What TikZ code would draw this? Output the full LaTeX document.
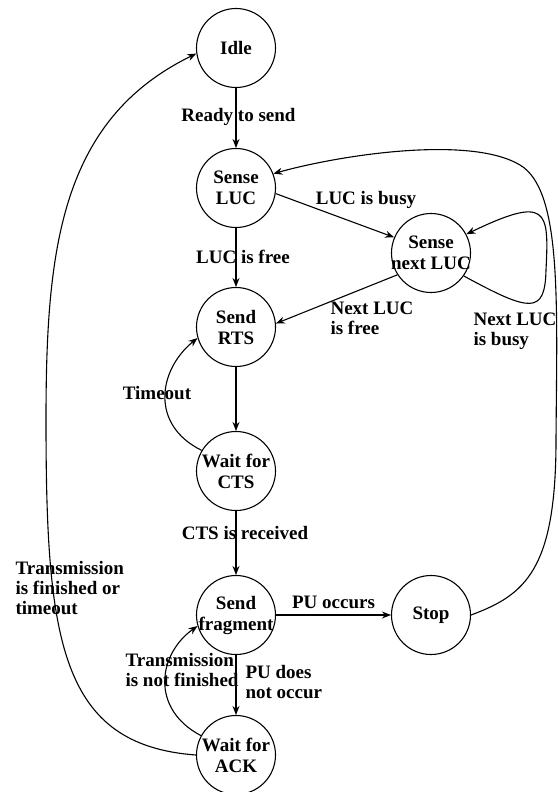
\documentclass[tikz,border=0pt]{standalone}
\usepackage{fontspec}
\setmainfont{Liberation Serif}
\usetikzlibrary{arrows.meta}

\begin{document}
\begin{tikzpicture}[x=1pt, y=-1pt, line width=1.1pt,
        >={Stealth[length=9pt, width=7pt]},
        stnode/.style={circle, draw, minimum size=79pt, inner sep=-8pt, align=center,
            font=\bfseries\fontsize{19}{21}\selectfont},
        lbl/.style={inner sep=0pt, align=left, font=\bfseries\fontsize{19}{20}\selectfont}]
        % Frame
        \useasboundingbox (0, 0) rectangle (557, 792);
        \fill[white] (0, 0) rectangle (557, 792);

        % States
        \node[stnode] (idle) at (236, 48) {Idle};
        \node[stnode] (sense) at (236, 188) {Sense\\LUC};
        \node[stnode] (next) at (431, 253) {Sense\\next LUC};
        \node[stnode] (rts) at (236, 327) {Send\\RTS};
        \node[stnode] (cts) at (236, 471) {Wait for\\CTS};
        \node[stnode] (frag) at (236, 615) {Send\\fragment};
        \node[stnode] (stop) at (431, 615) {Stop};
        \node[stnode] (ack) at (236, 755) {Wait for\\ACK};

        % Labels
        \node[lbl, anchor=base] (lready) at (238.5, 121.5) {Ready to send};
        \node[lbl, anchor=base] (lfree) at (243, 263.5) {LUC is free};
        \node[lbl, anchor=base] (lbusy) at (366, 204.5) {LUC is busy};
        \node[lbl, anchor=north west] (lnextfree) at (330, 301) {Next LUC\\is free};
        \node[lbl, anchor=north west] (lnextbusy) at (473, 312) {Next LUC\\is busy};
        \node[lbl, anchor=base] (ltimeout) at (157, 399.5) {Timeout};
        \node[lbl, anchor=base] (lcts) at (245, 539.5) {CTS is received};
        \node[lbl, anchor=north west] (lfinished) at (15, 561) {Transmission\\is finished or\\timeout};
        \node[lbl, anchor=base] (lpu) at (333.5, 608.5) {PU occurs};
        \node[lbl, anchor=north west] (lnopu) at (245, 665) {PU does\\not occur};
        \node[lbl, anchor=north west] (lnotfin) at (125, 653) {Transmission\\is not finished};

        % Transitions
        %% straight
        \draw[->] (idle) -- (sense);
        \draw[->] (sense) -- (rts);
        \draw[->] (sense.-8) -- (next.157);
        \draw[->] (next.213) -- (rts.5);
        \draw[->] (rts) -- (cts);
        \draw[->] (cts) -- (frag);
        \draw[->] (frag) -- (stop);
        \draw[->] (frag) -- (ack);
        %% curved
        \draw[->] (next.-35) .. controls (530, 312) and (545, 315) .. (546, 270)
            .. controls (549, 210) and (548, 195) .. (next.28);
        \draw[->] (cts.149) .. controls (150, 425) and (158, 370) .. (rts.196);
        \draw[->] (ack.151) .. controls (150, 709) and (158, 654) .. (frag.196);
        \draw[->] (stop.east) .. controls (525, 595) and (556, 570) .. (556, 440)
            .. controls (557, 300) and (562, 190) .. (520, 165)
            .. controls (470, 135) and (340, 155) .. (sense.21);
        \draw[->] (ack.180) .. controls (60, 745) and (46, 640) .. (46, 420)
            .. controls (46, 250) and (60, 120) .. (idle.188);

    \end{tikzpicture}
\end{document}
